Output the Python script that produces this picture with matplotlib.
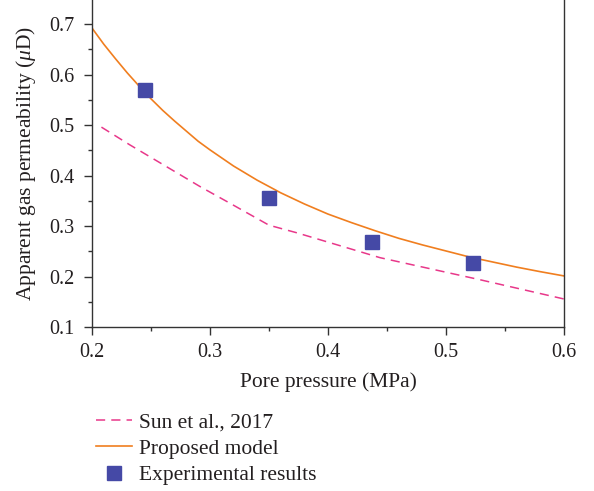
import matplotlib
matplotlib.use("Agg")
import matplotlib.pyplot as plt

# Data
sun_p = [0.208, 0.232, 0.2915, 0.318, 0.35, 0.3735, 0.427, 0.444, 0.529, 0.6]
sun_k = [0.496, 0.461, 0.3785, 0.344, 0.302, 0.287, 0.2497, 0.2378, 0.194, 0.156]

model_p = [0.20, 0.21, 0.22, 0.23, 0.24, 0.25, 0.26, 0.27, 0.28, 0.29, 0.30,
           0.32, 0.34, 0.36, 0.38, 0.40, 0.42, 0.44, 0.46, 0.48, 0.50,
           0.52, 0.54, 0.56, 0.58, 0.60]
model_k = [0.692, 0.660, 0.631, 0.603, 0.577, 0.552, 0.529, 0.508, 0.488, 0.468, 0.451,
           0.419, 0.391, 0.366, 0.344, 0.324, 0.307, 0.291, 0.276, 0.263, 0.251,
           0.239, 0.229, 0.219, 0.210, 0.2016]

exp_p = [0.245, 0.3503, 0.4375, 0.5232]
exp_k = [0.570, 0.3555, 0.2695, 0.2267]

xticks = [0.2, 0.3, 0.4, 0.5, 0.6]
yticks = [0.1, 0.2, 0.3, 0.4, 0.5, 0.6, 0.7]

plt.rcParams['font.family'] = ['Liberation Serif', 'DejaVu Serif']
plt.rcParams['mathtext.fontset'] = 'custom'
plt.rcParams['mathtext.rm'] = 'Liberation Serif'
plt.rcParams['mathtext.it'] = 'Liberation Serif:italic'

W, H = 594, 491
fig = plt.figure(figsize=(W / 100, H / 100), dpi=100)
ax = fig.add_axes([92 / W, 1 - 327.3 / H, (564 - 92) / W, 327.3 / H])

txt = '#231f20'
ax.plot(sun_p, sun_k, color='#e8388a', lw=1.1, dashes=(6, 4), label='Sun et al., 2017')
ax.plot(model_p, model_k, color='#f07e1f', lw=1.2, label='Proposed model')
ax.plot(exp_p, exp_k, ls='none', marker='s', ms=9.5, color='#4549a6',
        label='Experimental results')

ax.set_xlim(0.2, 0.6)
ax.set_ylim(0.1, 0.7475)
ax.set_xticks(xticks)
ax.set_yticks(yticks)
ax.set_xticklabels([f'{v:.1f}' for v in xticks])
ax.set_yticklabels([f'{v:.1f}' for v in yticks])
ax.set_xticks([0.25, 0.35, 0.45, 0.55], minor=True)
ax.set_yticks([0.15, 0.25, 0.35, 0.45, 0.55, 0.65], minor=True)

for s in ['left', 'bottom', 'right']:
    ax.spines[s].set_linewidth(1.0)
    ax.spines[s].set_color('#333333')
ax.spines['top'].set_visible(False)

ax.tick_params(which='major', direction='out', length=5.5, width=1.0, color='#333333',
               labelsize=14.5, labelcolor=txt)
ax.tick_params(axis='y', which='major', pad=7)
ax.tick_params(axis='x', which='major', pad=6)
ax.tick_params(which='minor', direction='out', length=3.2, width=1.0, color='#333333')
ax.tick_params(right=False, top=False, which='both')

ax.set_xlabel('Pore pressure (MPa)', fontsize=15.5, color=txt, labelpad=7)
ax.set_ylabel(r'Apparent gas permeability ($\mu$D)', fontsize=15.5, color=txt, labelpad=8)

fig.legend(loc='upper left', bbox_to_anchor=(96 / W, 1 - 412 / H), frameon=False,
           fontsize=15.5, labelcolor=txt, handlelength=1.65, handletextpad=0.35,
           labelspacing=0.3, borderaxespad=0, borderpad=0)

fig.savefig('out.png', dpi=100)
